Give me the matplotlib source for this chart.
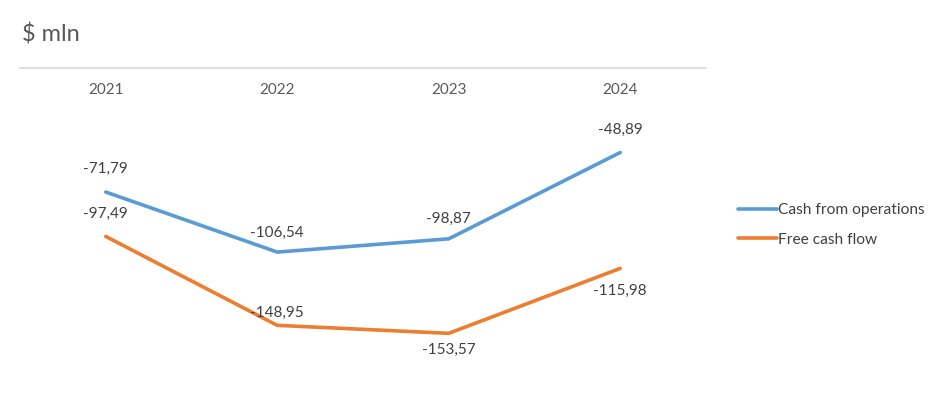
import numpy as np
import matplotlib
matplotlib.use("Agg")
from matplotlib import pyplot as plt

# data
years = ["2021", "2022", "2023", "2024"]
cash_ops = [-71.79, -106.54, -98.87, -48.89]
free_cf = [-97.49, -148.95, -153.57, -115.98]

# label offsets (points) relative to each marker
ops_offsets = [(0, 16.5), (0, 14), (0, 14), (0, 16.5)]
fcf_offsets = [(0, 16), (0, 9), (0, -12), (0, -16.5)]

plt.rcParams['font.family'] = ['Lato', 'DejaVu Sans']

fig = plt.figure(figsize=(9.41, 4.01), dpi=100)
ax = fig.add_axes([20 / 941, 1 - 379 / 401, 686 / 941, 311 / 401])

x = np.arange(len(years))
l1, = ax.plot(x, cash_ops, color='#5B9BD5', lw=2.6, solid_capstyle='round',
              label='Cash from operations')
l2, = ax.plot(x, free_cf, color='#ED7D31', lw=2.6, solid_capstyle='round',
              label='Free cash flow')

def fmt(v):
    return f"{v:.2f}".replace('.', ',')

for xi, v, off in zip(x, cash_ops, ops_offsets):
    ax.annotate(fmt(v), (xi, v), xytext=off, textcoords='offset points',
                ha='center', va='center', fontsize=11, color='#404040')
for xi, v, off in zip(x, free_cf, fcf_offsets):
    ax.annotate(fmt(v), (xi, v), xytext=off, textcoords='offset points',
                ha='center', va='center', fontsize=11, color='#404040')

ax.set_xlim(-0.5, 3.5)
ax.set_ylim(-180, 0)
for s in ['right', 'bottom', 'left']:
    ax.spines[s].set_visible(False)
ax.spines['top'].set_color('#d9d9d9')
ax.spines['top'].set_linewidth(1.2)
ax.set_xticks([])
ax.set_yticks([])

# category labels just under the zero line
for xi, yr in zip(x, years):
    ax.annotate(yr, (xi, 1), xycoords=('data', 'axes fraction'),
                xytext=(0, -15.5), textcoords='offset points',
                ha='center', va='center', fontsize=11, color='#595959')

fig.text(22 / 941, 1 - 34 / 401, "$ mln", fontsize=17, color='#595959',
         ha='left', va='center')

fig.legend(handles=[l1, l2], loc='center left',
           bbox_to_anchor=(724 / 941, 1 - 225 / 401), frameon=False,
           fontsize=11.2, handlelength=2.5, handletextpad=0.1,
           labelspacing=1.0, labelcolor='#404040')

fig.savefig('out.png', dpi=100)
